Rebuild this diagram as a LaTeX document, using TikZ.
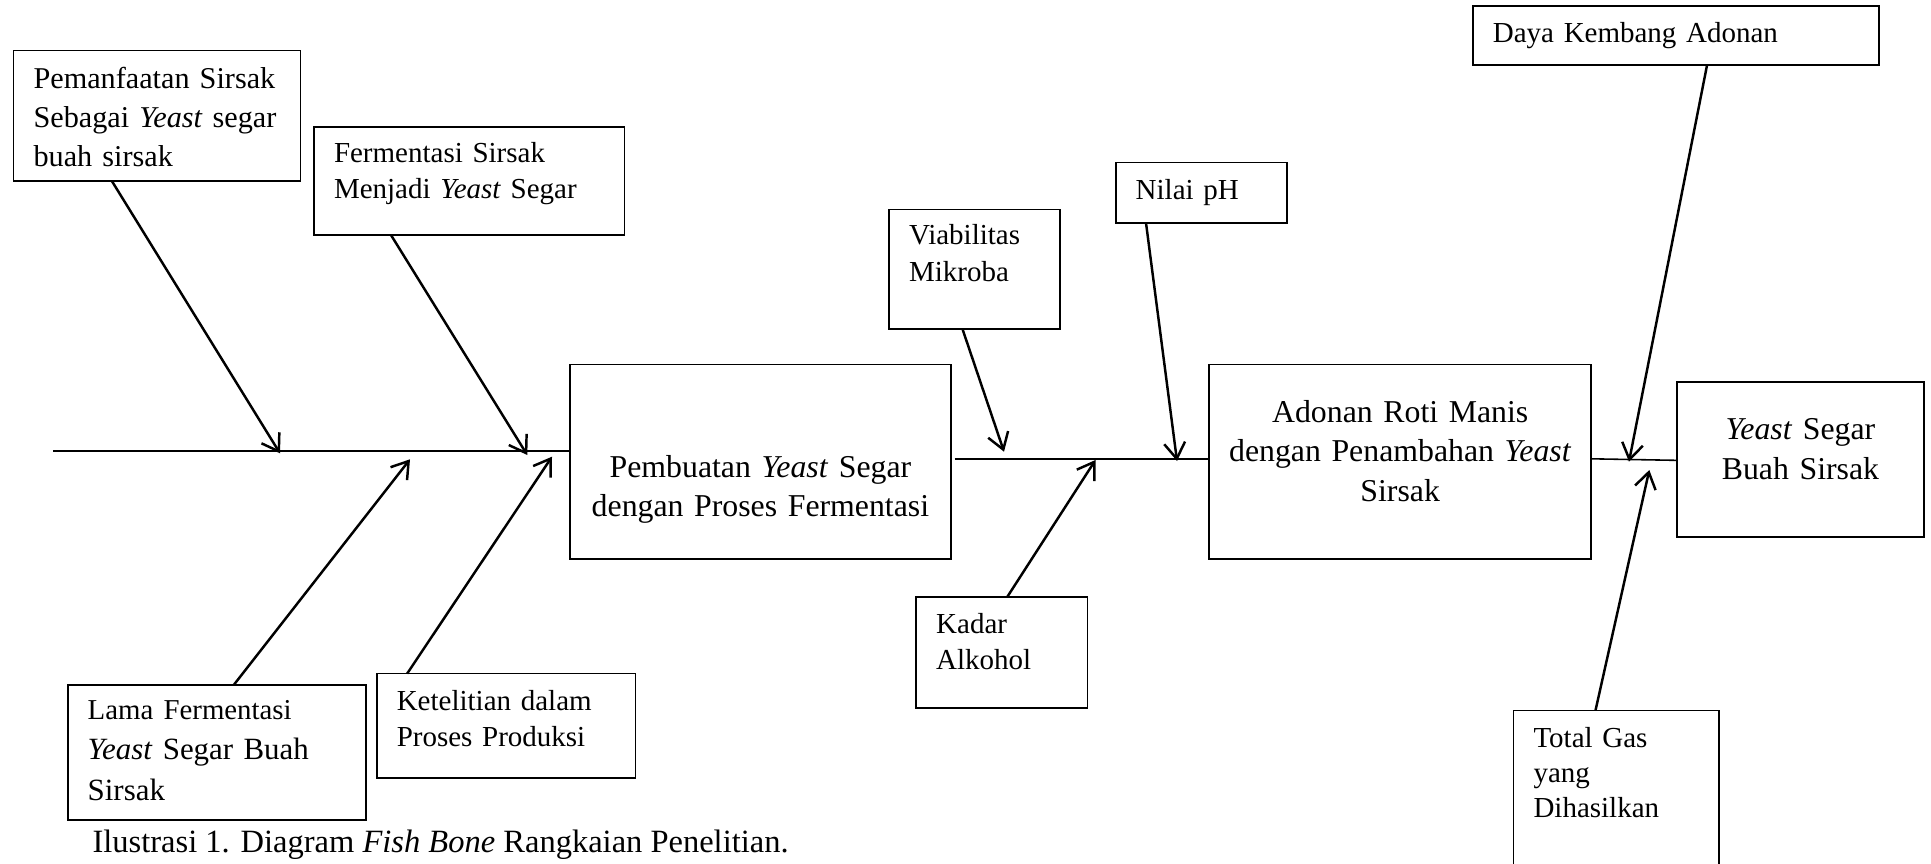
\documentclass[tikz,border=0pt]{standalone}
\usepackage{fontspec}
\setmainfont{Liberation Serif}
\usepackage{tikz}
\usetikzlibrary{arrows.meta,positioning,calc}

\begin{document}
\begin{tikzpicture}[
    cause/.style={rectangle, draw, line width=0.5pt, anchor=north west, inner xsep=0.2cm, inner ysep=0pt, outer sep=0pt, align=left, font=\fontsize{8.25}{10.3}\selectfont},
    stage/.style={cause, inner xsep=0.15cm, align=center, font=\fontsize{9.05}{11.3}\selectfont},
    bone/.style={-{Straight Barb[length=1.6mm, width=2.1mm]}, line width=0.7pt},
    spine/.style={line width=0.45pt}
]
    \useasboundingbox (0,0) rectangle (19.31,-8.63);

    % Main stages
    \node[stage, text width=3.505cm, text height=1.125cm, text depth=0.821cm] (pembuatan) at (5.702,-3.645) {Pembuatan \textit{Yeast} Segar\\dengan Proses Fermentasi};
    \node[stage, text width=3.518cm, text height=0.575cm, text depth=1.371cm] (adonan) at (12.093,-3.645) {Adonan Roti Manis\\dengan Penambahan \textit{Yeast}\\Sirsak};
    \node[stage, text width=2.163cm, text height=0.577cm, text depth=0.974cm] (hasil) at (16.773,-3.818) {\textit{Yeast} Segar\\Buah Sirsak};

    % Causes of the first stage
    \node[cause, text width=2.47cm, text height=0.3755cm, text depth=0.9295cm, font=\fontsize{8.6}{11.1}\selectfont] (pemanfaatan) at (0.1355,-0.505) {Pemanfaatan Sirsak\\Sebagai \textit{Yeast} segar\\buah sirsak};
    \node[cause, text width=2.704cm, text height=0.358cm, text depth=0.726cm] (fermentasi) at (3.140,-1.268) {Fermentasi Sirsak\\Menjadi \textit{Yeast} Segar};
    \node[cause, text width=2.581cm, text height=0.352cm, text depth=1.003cm, font=\fontsize{8.8}{11.4}\selectfont] (lama) at (0.677,-6.847) {{\fontsize{8.2}{11.4}\selectfont Lama Fermentasi}\\\textit{Yeast} Segar Buah\\Sirsak};
    \node[cause, text width=2.187cm, text height=0.366cm, text depth=0.681cm] (ketelitian) at (3.768,-6.736) {Ketelitian dalam\\Proses Produksi};

    % Causes of the second stage
    \node[cause, text width=1.312cm, text height=0.355cm, text depth=0.839cm, font=\fontsize{8.25}{10.5}\selectfont] (viabilitas) at (8.891,-2.094) {Viabilitas\\Mikroba};
    \node[cause, text width=1.312cm, text height=0.369cm, text depth=0.234cm] (ph) at (11.157,-1.626) {Nilai pH};
    \node[cause, text width=1.312cm, text height=0.357cm, text depth=0.751cm, font=\fontsize{8.25}{10.4}\selectfont] (alkohol) at (9.162,-5.973) {Kadar\\Alkohol};

    % Causes of the third stage
    \node[cause, text width=3.664cm, text height=0.36cm, text depth=0.231cm] (daya) at (14.729,-0.062) {Daya Kembang Adonan};
    \node[cause, text width=1.657cm, text height=0.369cm, text depth=1.425cm, font=\fontsize{8.25}{10}\selectfont] (gas) at (15.135,-7.106) {Total Gas\\yang\\Dihasilkan};

    % Spine
    \coordinate (tail) at (0.53,-4.51);
    \draw[spine] (tail) -- (tail -| pembuatan.west);
    \draw[spine] ([xshift=0.4mm, yshift=0.3mm]pembuatan.east) -- ([yshift=0.3mm]adonan.west);
    \draw[spine] ([yshift=0.3mm]adonan.east) -- ([yshift=-0.1mm]hasil.west);

    % Bone tips on the spine
    \coordinate (t1) at (2.800,-4.533);
    \coordinate (t2) at (5.273,-4.550);
    \coordinate (t3) at (4.100,-4.593);
    \coordinate (t4) at (5.520,-4.567);
    \coordinate (t5) at (10.040,-4.517);
    \coordinate (t6) at (11.770,-4.610);
    \coordinate (t7) at (10.955,-4.600);
    \coordinate (t8) at (16.290,-4.617);
    \coordinate (t9) at (16.493,-4.700);

    % Bones
    \draw[bone] ([xshift=-4.52mm]pemanfaatan.south) -- (t1);
    \draw[bone] ([xshift=-7.81mm]fermentasi.south) -- (t2);
    \draw[bone] ([xshift=1.72mm]lama.north) -- (t3);
    \draw[bone] ([xshift=-9.9mm]ketelitian.north) -- (t4);
    \draw[bone] ([xshift=-1.23mm]viabilitas.south) -- (t5);
    \draw[bone] ([xshift=-5.53mm]ph.south) -- (t6);
    \draw[bone] ([xshift=0.52mm]alkohol.north) -- (t7);
    \draw[bone] ([xshift=3.09mm]daya.south) -- (t8);
    \draw[bone] ([xshift=-2.09mm]gas.north) -- (t9);

    % Caption
    \node[anchor=base west, inner sep=0pt, font=\fontsize{9.25}{11}\selectfont] (caption) at (0.919,-8.522) {Ilustrasi 1. Diagram \textit{Fish Bone} Rangkaian Penelitian.};
\end{tikzpicture}
\end{document}
